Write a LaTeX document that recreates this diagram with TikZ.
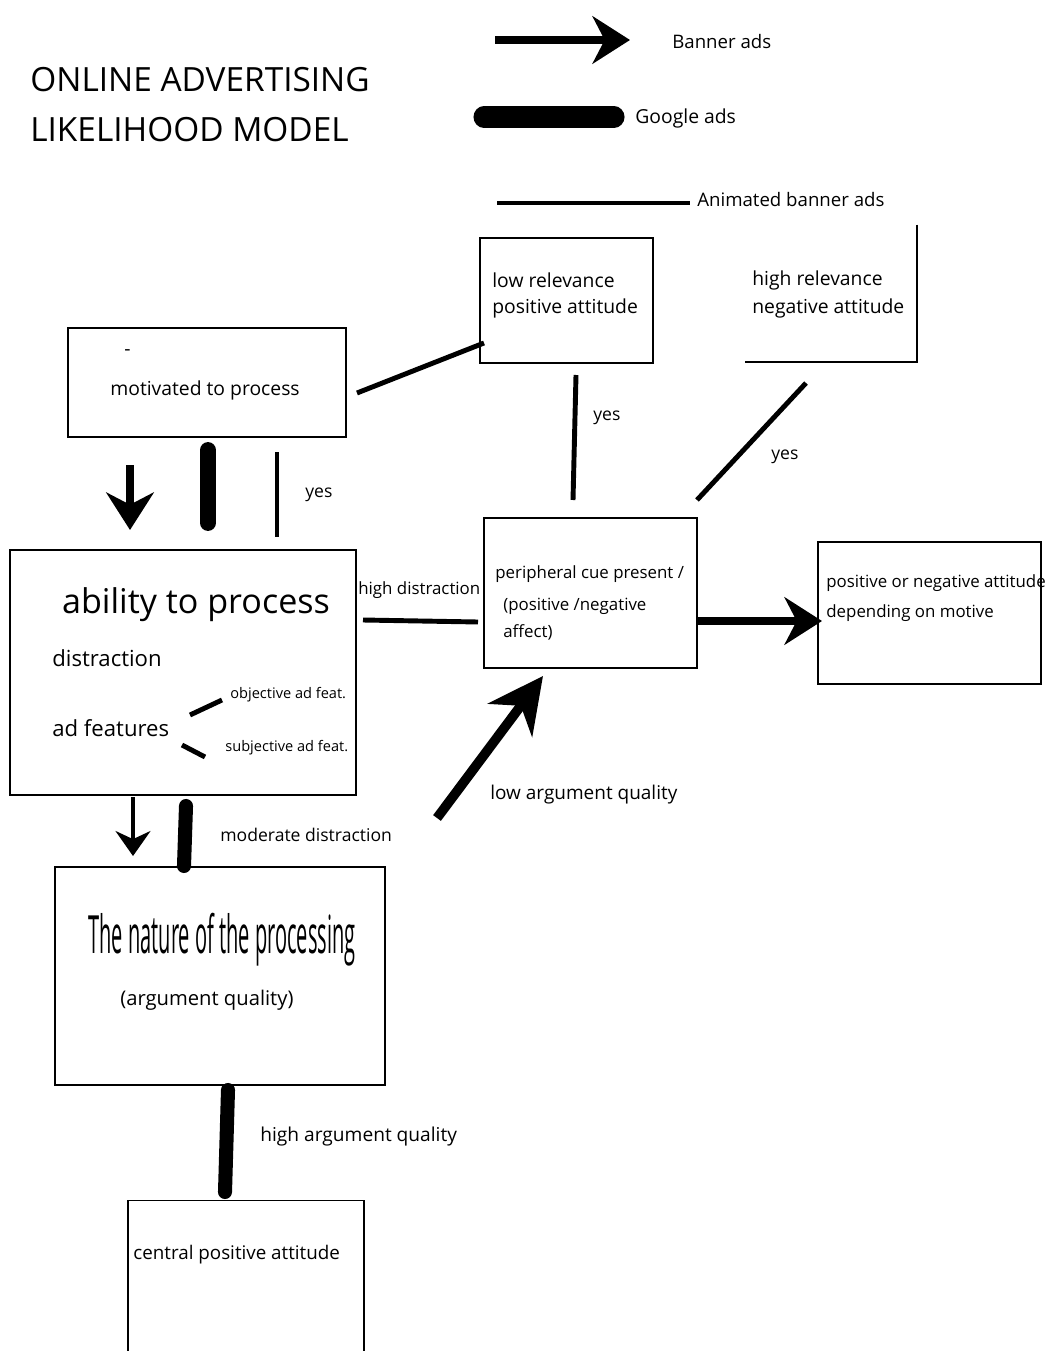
\documentclass[tikz,border=0pt]{standalone}
\usepackage{fontspec}
\setmainfont{Open Sans}
\usetikzlibrary{arrows.meta,positioning}

\tikzset{
  box/.style={draw, line width=1pt, inner sep=0pt},
  txt/.style={anchor=west, inner sep=0pt, font=\fontsize{11}{13}\selectfont},
  mid/.style={anchor=west, inner sep=0pt, font=\fontsize{9.6}{11}\selectfont},
  small/.style={anchor=west, inner sep=0pt, font=\fontsize{8.3}{10}\selectfont},
  big/.style={anchor=west, inner sep=0pt, font=\fontsize{12.6}{15}\selectfont},
  title/.style={anchor=west, inner sep=0pt, font=\fontsize{19}{22}\selectfont},
  banner/.style={line width=4pt, -{Stealth[length=0.75cm,width=0.95cm]}},
  google/.style={line width=8pt, line cap=round},
  animated/.style={line width=2.8pt},
  thinarrow/.style={line width=1.8pt, -{Stealth[length=0.5cm,width=0.7cm]}}
}

\begin{document}
\begin{tikzpicture}[x=0.02cm, y=-0.02cm]
      \useasboundingbox (0,0) rectangle (1045,1351);

      % title
      \node[title] (ttlA) at (30,80) {ONLINE ADVERTISING};
      \node[title] (ttlB) at (30,130) {LIKELIHOOD MODEL};

      % legend
      \coordinate (BanA) at (495,40);
      \coordinate (BanB) at (630,40);
      \coordinate (GooA) at (484,117);
      \coordinate (GooB) at (614,117);
      \coordinate (AniA) at (497,203);
      \coordinate (AniB) at (690,203);
      \draw[banner, line width=4.5pt] (BanA) -- (BanB);
      \draw[google, line width=12pt] (GooA) -- (GooB);
      \draw[animated] (AniA) -- (AniB);
      \node[txt, font=\fontsize{10.6}{12}\selectfont] (banlab) at (672,42) {Banner ads};
      \node[txt] (goolab) at (635,118) {Google ads};
      \node[txt, font=\fontsize{10.6}{12}\selectfont] (anilab) at (697,200) {Animated banner ads};

      % boxes
      \node[box, minimum width=3.46cm, minimum height=2.5cm] (lowrel) at (566.5,300.5) {};
      \node[inner sep=0pt, minimum width=3.44cm, minimum height=2.74cm] (highrel) at (831,293.5) {};
      \draw[line width=1pt] (highrel.north east) -- (highrel.south east) -- (highrel.south west);
      \node[box, minimum width=5.56cm, minimum height=2.18cm] (mot) at (207,382.5) {};
      \node[box, line width=1.4pt, minimum width=6.92cm, minimum height=4.9cm] (abil) at (183,672.5) {};
      \node[box, minimum width=4.26cm, minimum height=3cm] (peri) at (590.5,593) {};
      \node[box, minimum width=4.46cm, minimum height=2.84cm] (posneg) at (929.5,613) {};
      \node[box, minimum width=6.6cm, minimum height=4.36cm] (nature) at (220,976) {};
      \node[box, minimum width=4.72cm, minimum height=3.1cm] (central) at (246,1278) {};

      % texts in boxes
      \node[txt] (lowA) at (492,280) {low relevance};
      \node[txt] (lowB) at (492,308) {positive attitude};
      \node[txt] (highA) at (752,280) {high relevance};
      \node[txt] (highB) at (752,308) {negative attitude};
      \node[txt] (dash) at (124,353) {-};
      \node[txt] (motlab) at (110,390) {motivated to process};
      \node[anchor=center, inner sep=0pt, font=\fontsize{19.4}{22}\selectfont] (abillab) at (196,605) {ability to process};
      \node[big] (distr) at (52,658) {distraction};
      \node[big] (adfeat) at (52,728) {ad features};
      \node[small] (objfeat) at (230,695) {objective ad feat.};
      \node[small] (subfeat) at (225,748) {subjective ad feat.};
      \node[mid] (periA) at (495,574) {peripheral cue present /};
      \node[mid] (periB) at (503,606) {(positive /negative};
      \node[mid] (periC) at (503,632) {affect)};
      \node[mid] (posA) at (826,583) {positive or negative attitude};
      \node[mid] (posB) at (826,613) {depending on motive};
      \node[anchor=center, inner sep=0pt] (natlab) at (222,940)
        {\scalebox{0.38}[1]{\fontsize{30}{34}\selectfont The nature of the processing}};
      \node[txt, font=\fontsize{11.5}{13}\selectfont] (natsub) at (120,1000) {(argument quality)};
      \node[txt, font=\fontsize{10.7}{13}\selectfont] (cenlab) at (133,1255) {central positive attitude};

      % connector ends
      \coordinate (MotAbA) at (130,465);
      \coordinate (MotAbB) at (130,530);
      \coordinate (MotAbGA) at (208,450);
      \coordinate (MotAbGB) at (208,523);
      \coordinate (MotAbYA) at (277,452);
      \coordinate (MotAbYB) at (277,537);
      \coordinate (MotLowA) at (357,393);
      \coordinate (MotLowB) at (484,343);
      \coordinate (LowPerA) at (576,375);
      \coordinate (LowPerB) at (573,500);
      \coordinate (HighPerA) at (806,383);
      \coordinate (HighPerB) at (697,500);
      \coordinate (AbPerA) at (363,620);
      \coordinate (AbPerB) at (478,622);
      \coordinate (PerPosA) at (697,621);
      \coordinate (PerPosB) at (822,621);
      \coordinate (NatPerA) at (437,818);
      \coordinate (NatPerB) at (543,676);
      \coordinate (AbNatA) at (133,797);
      \coordinate (AbNatB) at (133,856);
      \coordinate (AbNatGA) at (186,806);
      \coordinate (AbNatGB) at (184,866);
      \coordinate (NatCenA) at (228,1090);
      \coordinate (NatCenB) at (225,1192);
      \coordinate (FeatA) at (190,715);
      \coordinate (FeatB) at (222,700);
      \coordinate (FeatC) at (182,745);
      \coordinate (FeatD) at (205,757);

      \draw[banner] (MotAbA) -- (MotAbB);
      \draw[google, line width=9pt] (MotAbGA) -- (MotAbGB);
      \draw[animated] (MotAbYA) -- (MotAbYB);
      \draw[animated] (MotLowA) -- (MotLowB);
      \draw[animated] (LowPerA) -- (LowPerB);
      \draw[animated] (HighPerA) -- (HighPerB);
      \draw[animated] (AbPerA) -- (AbPerB);
      \draw[banner] (PerPosA) -- (PerPosB);
      \draw[banner, line width=5.5pt, -{Stealth[length=1.1cm,width=1.1cm]}] (NatPerA) -- (NatPerB);
      \draw[thinarrow] (AbNatA) -- (AbNatB);
      \draw[google] (AbNatGA) -- (AbNatGB);
      \draw[google] (NatCenA) -- (NatCenB);
      \draw[animated] (FeatA) -- (FeatB);
      \draw[animated] (FeatC) -- (FeatD);

      % connector labels
      \node[txt, font=\fontsize{10}{12}\selectfont] (yesA) at (305,495) {yes};
      \node[txt, font=\fontsize{10}{12}\selectfont] (yesB) at (593,418) {yes};
      \node[txt, font=\fontsize{10}{12}\selectfont] (yesC) at (771,457) {yes};
      \node[mid] (hidis) at (358,590) {high distraction};
      \node[txt, font=\fontsize{10.8}{13}\selectfont] (lowarg) at (490,795) {low argument quality};
      \node[txt, font=\fontsize{10}{12}\selectfont] (moddis) at (220,835) {moderate distraction};
      \node[txt, font=\fontsize{10.9}{13}\selectfont] (hiarg) at (260,1137) {high argument quality};
\end{tikzpicture}
\end{document}
